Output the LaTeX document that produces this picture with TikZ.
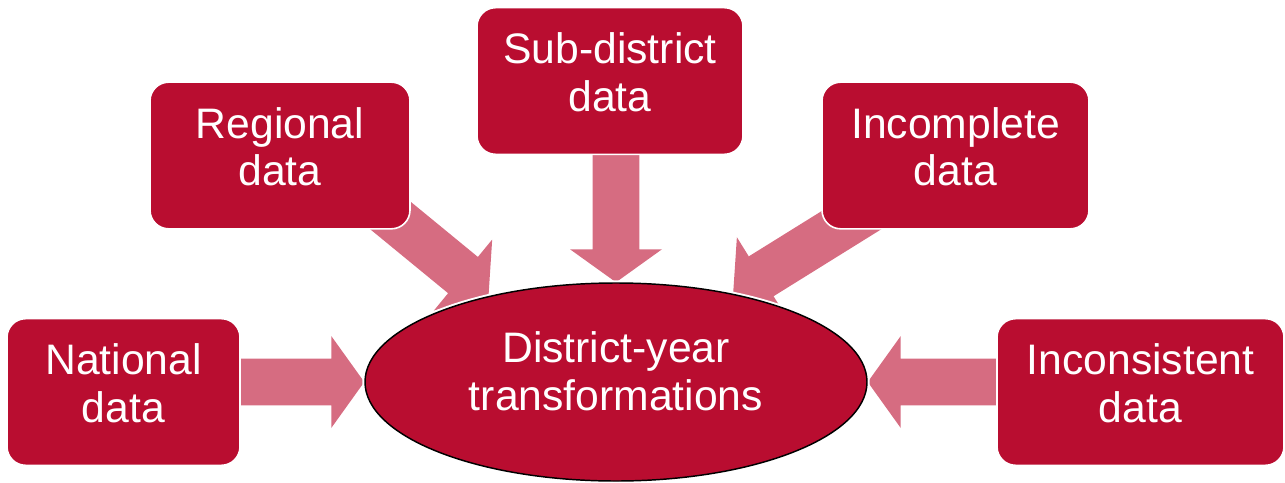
\documentclass[tikz,border=0pt]{standalone}
\usepackage{fontspec}
\setmainfont{Liberation Sans}
\usetikzlibrary{shapes.geometric, calc, backgrounds}

\definecolor{boxred}{RGB}{185,13,48}
\definecolor{arrowpink}{RGB}{214,108,129}

\tikzset{
  databox/.style={rectangle, rounded corners=14pt, fill=boxred, draw=white, line width=1.2pt,
    text=white, align=center, minimum height=110pt, inner sep=0pt,
    font=\fontsize{32}{35.5}\selectfont, text depth=13.5pt},
}

% wide arrow from #1 to #2
\newcommand{\blockarrow}[2]{%
  \fill[arrowpink] ($(#1)!17.6pt!90:(#2)$)
    -- ($(#2)!24.75pt!(#1)!17.6pt!90:(#2)$)
    -- ($(#2)!24.75pt!(#1)!34.5pt!90:(#2)$)
    -- (#2)
    -- ($(#2)!24.75pt!(#1)!34.5pt!-90:(#2)$)
    -- ($(#2)!24.75pt!(#1)!17.6pt!-90:(#2)$)
    -- ($(#1)!17.6pt!-90:(#2)$) -- cycle;}

\begin{document}
\begin{tikzpicture}[x=0.75pt, y=-0.75pt]
	\useasboundingbox (0,0) rectangle (1285,482);

	\node (district) [ellipse, fill=boxred, draw=black, line width=1.1pt,
		preaction={draw=white, line width=4pt}, text=white, align=center,
		minimum width=376.5pt, minimum height=148.5pt, inner sep=0pt,
		font=\fontsize{32}{35.5}\selectfont, text depth=16.5pt] at (616,382) {District-year\\transformations};

	\node (national) [databox, minimum width=174.75pt] at (123.5,392) {National\\data};
	\node (regional) [databox, minimum width=195pt] at (280,155.5) {Regional\\data};
	\node (subdistrict) [databox, minimum width=199.5pt] at (610,81) {Sub-district\\data};
	\node (incomplete) [databox, minimum width=200.25pt] at (955.5,155.5) {Incomplete\\data};
	\node (inconsistent) [databox, minimum width=215.25pt] at (1140.5,392) {Inconsistent\\data};

	\coordinate (natstart) at (national.center |- district.west);
	\coordinate (regstart) at ([yshift=23pt]regional.center);
	\coordinate (substart) at (subdistrict.center -| district.north);
	\coordinate (incstart) at (inconsistent.center |- district.east);

	\begin{scope}[on background layer]
		\blockarrow{natstart}{district.west}
		\blockarrow{regstart}{district.146}
		\blockarrow{substart}{district.north}
		\blockarrow{incomplete}{district.37}
		\blockarrow{incstart}{district.east}
	\end{scope}
\end{tikzpicture}
\end{document}
